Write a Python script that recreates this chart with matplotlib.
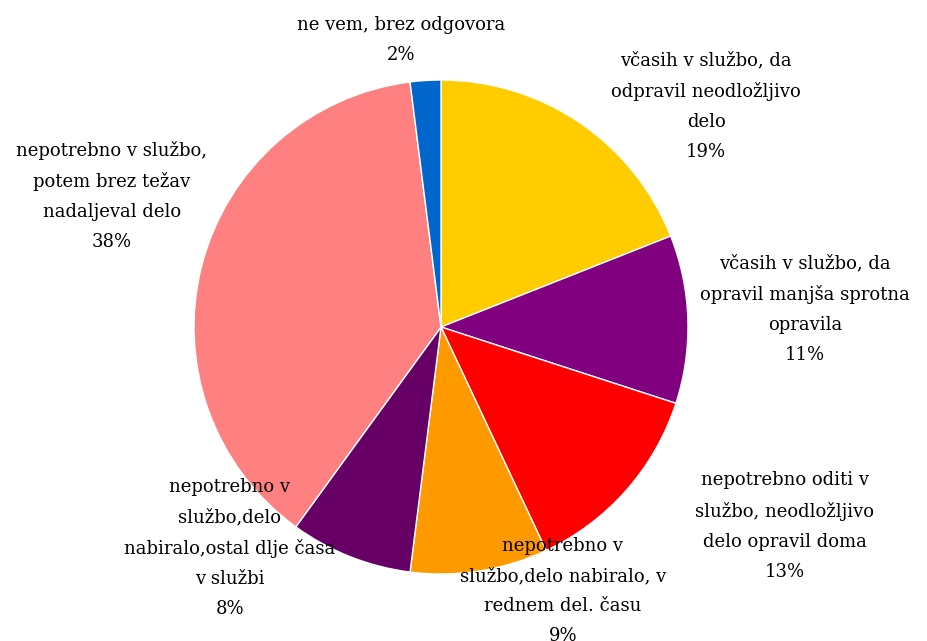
import matplotlib.pyplot as plt

labels = [
    "včasih v službo, da\nodpravil neodložljivo\ndelo",
    "včasih v službo, da\nopravil manjša sprotna\nopravila",
    "nepotrebno oditi v\nslužbo, neodložljivo\ndelo opravil doma",
    "nepotrebno v\nslužbo,delo nabiralo, v\nrednem del. času",
    "nepotrebno v\nslužbo,delo\nnabiralo,ostal dlje časa\nv službi",
    "nepotrebno v službo,\npotem brez težav\nnadaljeval delo",
    "ne vem, brez odgovora",
]
shares = [19, 11, 13, 9, 8, 38, 2]
colors = ["#FFCC00", "#800080", "#FF0000", "#FF9900", "#660066", "#FF8080", "#0066CC"]

# label centres in pixels (x from left, y from top)
label_px = [(706, 106), (805, 309), (785, 526), (563, 591), (230, 548), (112, 196), (401, 40)]

W, H = 928, 641
cx, cy, r = 441, 327, 247

fig = plt.figure(figsize=(W / 100, H / 100), dpi=100)
ax = fig.add_axes([0, 0, 1, 1])

ax.pie(shares, colors=colors, startangle=90, counterclock=False,
       wedgeprops=dict(edgecolor="white", linewidth=1))

ax.set_xlim(-cx / r, (W - cx) / r)
ax.set_ylim(-(H - cy) / r, cy / r)
ax.set_aspect("equal")
ax.axis("off")

for lab, val, (px, py) in zip(labels, shares, label_px):
    x = (px - cx) / r
    y = (cy - py) / r
    ax.text(x, y, f"{lab}\n{val}%", ha="center", va="center", multialignment="center",
            fontsize=13, family="DejaVu Serif", linespacing=1.85, color="black")

plt.savefig("out.png", dpi=100)
